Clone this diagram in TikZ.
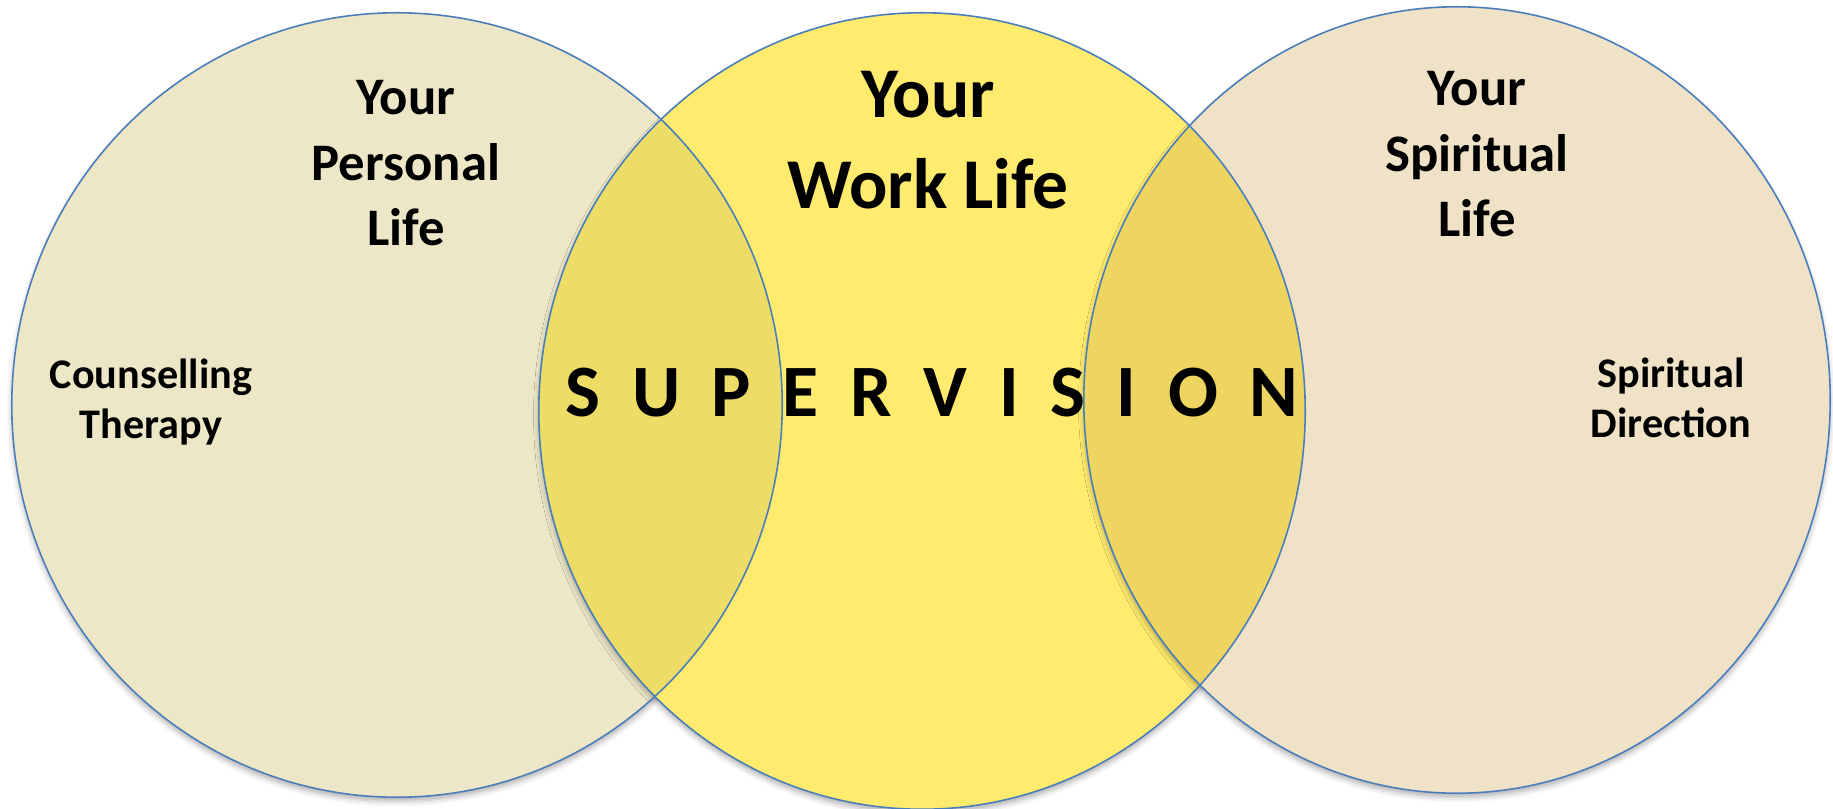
\documentclass[tikz,border=0pt]{standalone}
\usepackage{fontspec}
\setmainfont{Carlito}
\usepackage{xcolor}
\usepackage{tikz}
\usetikzlibrary{shadows.blur}
\definecolor{personalfill}{HTML}{EDE7C8}
\definecolor{workfill}{HTML}{FFEB6E}
\definecolor{spiritfill}{HTML}{F0E2C7}
\definecolor{leftlap}{HTML}{EDDD66}
\definecolor{rightlap}{HTML}{EDD560}
\definecolor{ringblue}{HTML}{4A7EBB}
\tikzstyle{ring}=[draw=ringblue, line width=0.45pt]
\tikzstyle{softshadow}=[blur shadow={shadow xshift=0pt, shadow yshift=-1.2pt, shadow blur radius=1.5pt, shadow opacity=30}]
\tikzstyle{heading}=[align=center, inner sep=0pt, anchor=north, font=\bfseries\fontsize{15}{18.6}\selectfont]
\tikzstyle{sidenote}=[align=center, inner sep=0pt, anchor=north, font=\bfseries\fontsize{12}{14.4}\selectfont]
\newcommand{\personalring}{(397,405) ellipse [x radius=3.85cm, y radius=3.92cm]}
\newcommand{\workring}{(922,411) ellipse [x radius=3.83cm, y radius=3.98cm]}
\newcommand{\spiritring}{(1457,400) ellipse [x radius=3.73cm, y radius=3.93cm]}
\begin{document}
\begin{tikzpicture}[x=0.01cm, y=-0.01cm]
\useasboundingbox (0,0) rectangle (1833,809);

% Circles
\fill[personalfill, softshadow] \personalring;
\fill[workfill, softshadow] \workring;
\fill[spiritfill, softshadow] \spiritring;

% Overlaps
\begin{scope}
    \clip \personalring;
    \fill[leftlap] \workring;
\end{scope}
\begin{scope}
    \clip \spiritring;
    \fill[rightlap] \workring;
\end{scope}

% Outlines
\draw[ring] \personalring;
\draw[ring] \workring;
\draw[ring] \spiritring;

% Labels
\node[heading] (personal) at (406,80) {Your\\Personal\\Life};
\node[heading, font=\bfseries\fontsize{20.3}{25.8}\selectfont] (work) at (928,71) {Your\\Work Life};
\node[heading] (spirit) at (1477,71) {Your\\Spiritual\\Life};
\node[sidenote] (therapy) at (151,358) {Counselling\\Therapy};
\node[sidenote] (direction) at (1671,357) {Spiritual\\Direction};
\node[inner sep=0pt, font=\bfseries\fontsize{21}{25}\selectfont] (supervision) at (932,393) {\spaceskip=9pt S U P E R V I S I O N};

\end{tikzpicture}
\end{document}
